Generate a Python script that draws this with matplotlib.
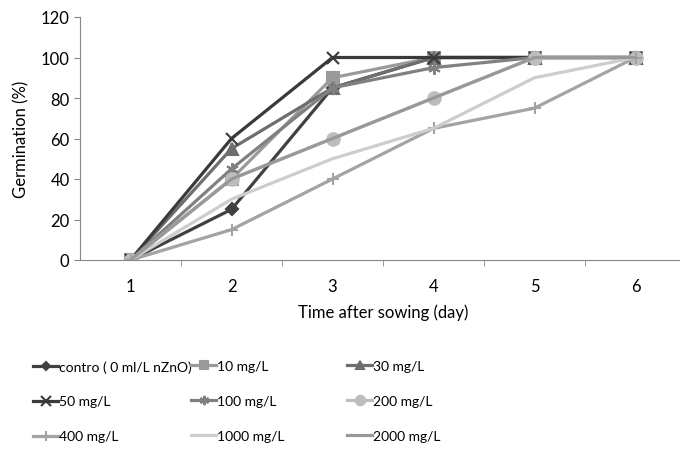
import matplotlib.pyplot as plt

plt.rcParams['font.family'] = ['Lato', 'DejaVu Sans']

days = [1, 2, 3, 4, 5, 6]
labels = ['contro ( 0 ml/L nZnO)', '10 mg/L', '30 mg/L', '50 mg/L', '100 mg/L',
          '200 mg/L', '400 mg/L', '1000 mg/L', '2000 mg/L']
control = [0, 25, 85, 100, 100, 100]
c10 = [0, 40, 90, 100, 100, 100]
c30 = [0, 55, 85, 100, 100, 100]
c50 = [0, 60, 100, 100, 100, 100]
c100 = [0, 45, 85, 95, 100, 100]
c200 = [0, 40, 60, 80, 100, 100]
c400 = [0, 15, 40, 65, 75, 100]
c1000 = [0, 30, 50, 65, 90, 100]
c2000 = [0, 40, 60, 80, 100, 100]

series = [control, c10, c30, c50, c100, c200, c400, c1000, c2000]
colors = ['#404040', '#9a9a9a', '#6e6e6e', '#3a3a3a', '#808080',
          '#bdbdbd', '#a3a3a3', '#cdcdcd', '#999999']
markers = ['D', 's', '^', 'x', (6, 2, 0), 'o', '+', None, None]
msizes = [6, 8, 8, 9, 9, 9, 9, 0, 0]

fig = plt.figure(figsize=(6.8, 4.52), dpi=100)
ax = fig.add_axes([80 / 680, 1 - 261 / 452, 606 / 680, 243 / 452])

handles = []
for y, lab, c, m, ms in zip(series, labels, colors, markers, msizes):
    ln, = ax.plot(days, y, color=c, lw=2.3, marker=m, markersize=ms,
                  markeredgewidth=1.5, label=lab)
    handles.append(ln)

ax.set_xlim(0.5, 6.5)
ax.set_ylim(0, 120)
ax.set_yticks(range(0, 121, 20))
ax.set_xticks(days)
ax.set_xticks([1.5, 2.5, 3.5, 4.5, 5.5], minor=True)
ax.tick_params(axis='x', which='major', length=0, labelsize=12, pad=13)
ax.tick_params(axis='x', which='minor', length=4, color='#888888', direction='out')
ax.tick_params(axis='y', length=4, color='#888888', labelsize=12)
for s in ['top', 'right']:
    ax.spines[s].set_visible(False)
for s in ['left', 'bottom']:
    ax.spines[s].set_color('#888888')
ax.set_xlabel('Time after sowing (day)', fontsize=12, labelpad=7)
ax.set_ylabel('Germination (%)', fontsize=12, labelpad=8)

cols = [[0, 3, 6], [1, 4, 7], [2, 5, 8]]
xs = [33, 191, 347]
for col, x in zip(cols, xs):
    fig.legend([handles[i] for i in col], [labels[i] for i in col],
               loc='upper left', bbox_to_anchor=(x / 680, 1 - 361 / 452),
               frameon=False, fontsize=10, handlelength=1.8, handletextpad=0.1,
               labelspacing=1.65, borderpad=0, borderaxespad=0, markerscale=0.75)

fig.savefig('out.png', dpi=100)
